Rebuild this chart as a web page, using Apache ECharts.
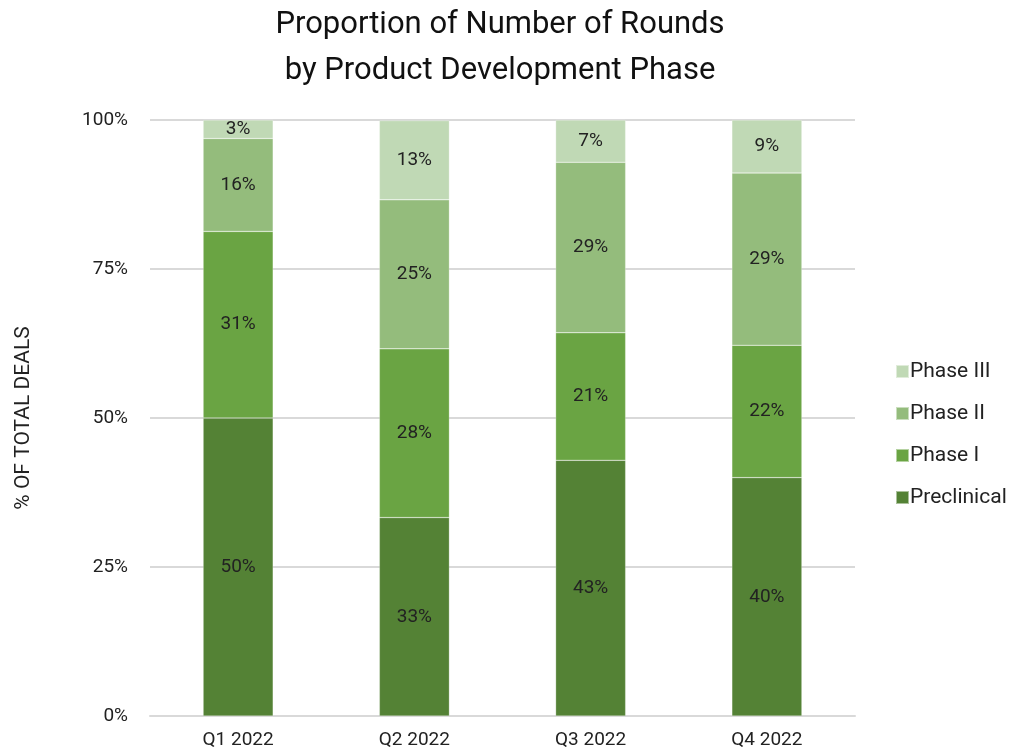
<!DOCTYPE html>
<html><head><meta charset="utf-8">
<script src="https://cdn.jsdelivr.net/npm/echarts@6/dist/echarts.min.js"></script>
<style>html,body{margin:0;padding:0;background:#fff}#c{width:1018px;height:755px}</style>
</head><body><div id="c"></div>
<script>
const categories = ['Q1 2022','Q2 2022','Q3 2022','Q4 2022'];
const preclinical = [50.0, 33.3, 42.9, 40.0];
const phase1 = [31.3, 28.3, 21.4, 22.2];
const phase2 = [15.6, 25.0, 28.6, 28.9];
const phase3 = [3.1, 13.3, 7.1, 8.9];
const yTicks = [0, 25, 50, 75, 100];
const FONT = 'Roboto';
const chart = echarts.init(document.getElementById('c'));
function s(name, data, color){
  return {name, type:'bar', stack:'t', data, barWidth:70,
    itemStyle:{color, borderColor:'rgba(255,255,255,0.5)', borderWidth:0.5},
    label:{show:true, position:'inside', formatter:p=>Math.round(p.value)+'%', color:'#222', fontSize:19, fontFamily:FONT}};
}
chart.setOption({
  animation:false,
  title:{text:'Proportion of Number of Rounds\nby Product Development Phase', left:495, textAlign:'center', top:-3,
    textStyle:{fontFamily:FONT, fontWeight:'normal', fontSize:31, lineHeight:46, color:'#111'}},
  grid:{left:150, right:163, top:120, bottom:39},
  legend:{orient:'vertical', left:890, top:356, itemGap:21, itemWidth:13, itemHeight:13, icon:'rect',
    data:['Phase III','Phase II','Phase I','Preclinical'],
    textStyle:{fontFamily:FONT, fontSize:21, color:'#222', padding:[0,0,0,-4]}},
  xAxis:{type:'category', data:categories, axisTick:{show:false},
    axisLine:{lineStyle:{color:'#d9d9d9', width:2}},
    axisLabel:{fontFamily:FONT, fontSize:19, color:'#222', margin:15}},
  yAxis:{type:'value', min:0, max:100, interval:25, name:'% OF TOTAL DEALS', nameLocation:'middle', nameGap:116, nameRotate:90,
    nameTextStyle:{fontFamily:FONT, fontSize:21, color:'#222'},
    axisLabel:{fontFamily:FONT, fontSize:19, color:'#222', margin:22, formatter:v=>yTicks.includes(v)?v+'%':''},
    splitLine:{lineStyle:{color:'#d9d9d9', width:2}}},
  series:[s('Preclinical',preclinical,'#548235'), s('Phase I',phase1,'#6aa443'), s('Phase II',phase2,'#94bc7c'), s('Phase III',phase3,'#c0d9b5')]
});
</script></body></html>
